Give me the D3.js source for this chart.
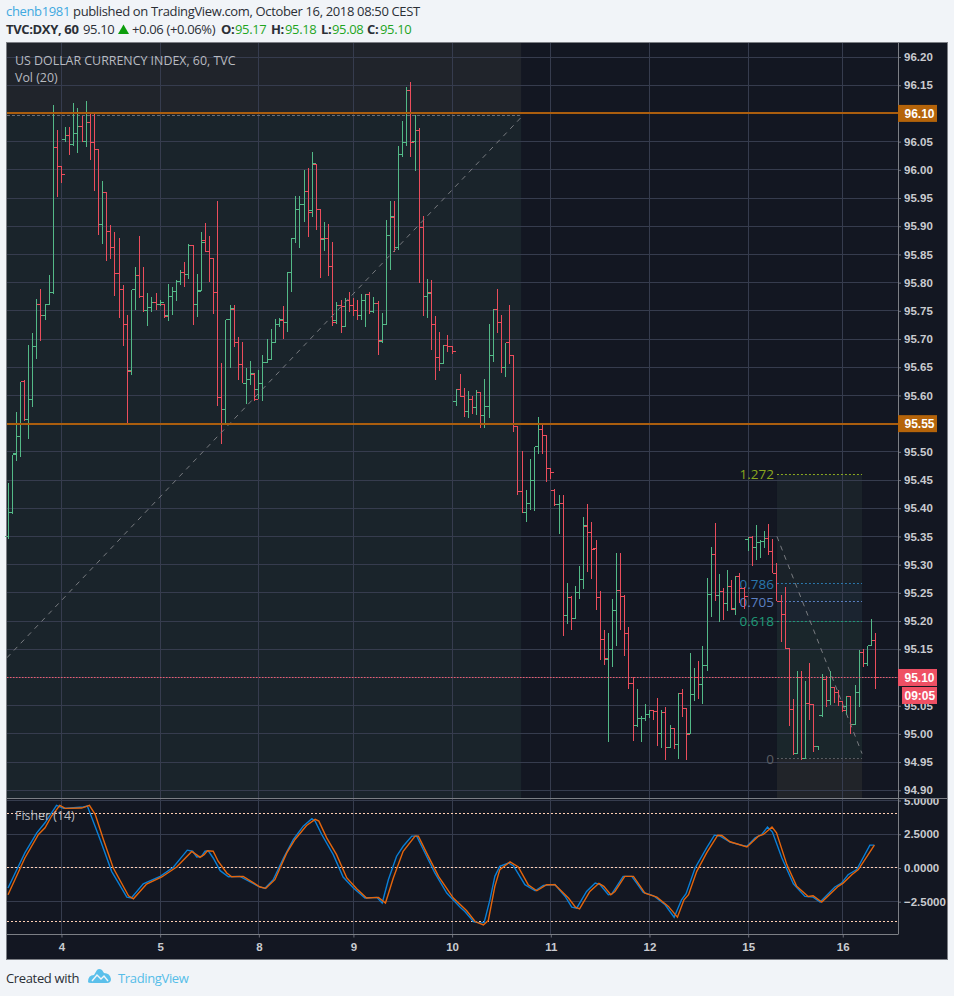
<!DOCTYPE html>
<html>
<head>
<meta charset="utf-8">
<title>DXY 60</title>
<script src="https://cdn.jsdelivr.net/npm/d3@7"></script>
<style>
  html, body { margin: 0; padding: 0; background: #f1f4f8; }
  svg { display: block; }
  .head { font-family: "Open Sans", sans-serif; font-size: 13px; letter-spacing: -0.35px; fill: #2b2f36; }
  .axis text { font-family: "Liberation Sans", Arial, sans-serif; font-size: 11.5px; font-weight: bold; fill: #c9cbd0; }
  .axis .domain { display: none; }
  .axis line { stroke: #6a6d78; }
  .legend { font-family: "Open Sans", sans-serif; font-size: 12.4px; fill: #b8bbc0; }
  .fib { font-family: "Open Sans", sans-serif; font-size: 13.5px; text-anchor: end; }
  .tag { font-family: "Liberation Sans", Arial, sans-serif; font-size: 12px; font-weight: bold; fill: #fff; }
</style>
</head>
<body>
<div id="chart"></div>
<script>
// hourly bars
const opens = [
  95.350,95.393,95.497,95.528,95.624,95.557,95.592,95.687,95.762,95.742,95.762,95.782,96.040,96.006,96.053,96.060,
  96.044,96.064,96.076,96.050,96.083,96.048,96.036,95.903,95.959,95.891,95.863,95.816,95.788,95.726,95.645,95.787,
  95.812,95.775,95.750,95.756,95.765,95.761,95.761,95.741,95.775,95.785,95.802,95.818,95.814,95.865,95.761,95.786,
  95.874,95.855,95.842,95.782,95.596,95.575,95.734,95.753,95.693,95.655,95.622,95.629,95.638,95.611,95.622,95.659,
  95.663,95.694,95.725,95.733,95.730,95.818,95.879,95.929,95.939,95.961,95.927,96.009,95.929,95.876,95.879,95.829,
  95.733,95.759,95.723,95.768,95.760,95.750,95.741,95.768,95.779,95.749,95.763,95.695,95.725,95.884,95.916,95.863,
  96.027,96.048,96.141,96.050,96.070,95.898,95.775,95.782,95.725,95.668,95.657,95.688,95.687,95.589,95.611,95.599,
  95.572,95.593,95.578,95.605,95.564,95.580,95.670,95.753,95.730,95.650,95.693,95.670,95.545,95.429,95.393,95.408,
  95.449,95.509,95.539,95.529,95.470,95.431,95.407,95.408,95.210,95.241,95.205,95.250,95.274,95.367,95.357,95.328,
  95.242,95.168,95.132,95.149,95.218,95.254,95.244,95.178,95.089,95.015,95.027,95.027,95.035,95.041,95.040,95.000,
  95.038,94.975,95.009,94.981,95.072,95.045,95.000,95.070,95.100,95.088,95.122,95.248,95.318,95.245,95.252,95.232,
  95.261,95.223,95.279,95.258,95.345,95.348,95.330,95.340,95.341,95.347,95.323,95.285,95.235,95.211,95.151,95.044,
  94.965,95.100,94.956,95.054,95.052,94.977,95.033,95.096,95.060,95.082,95.073,95.057,95.049,95.066,95.017,95.074,
  95.144,95.125,95.156,95.166
];
const highs = [
  95.445,95.495,95.570,95.624,95.627,95.690,95.711,95.771,95.789,95.762,95.814,96.115,96.071,96.006,96.076,96.076,
  96.118,96.110,96.096,96.122,96.100,96.100,96.036,95.981,95.959,95.903,95.889,95.879,95.795,95.742,95.787,95.827,
  95.882,95.827,95.781,95.774,95.781,95.770,95.763,95.797,95.792,95.804,95.822,95.836,95.868,95.865,95.815,95.889,
  95.906,95.882,95.844,95.945,95.657,95.734,95.761,95.760,95.704,95.695,95.648,95.661,95.639,95.645,95.672,95.700,
  95.717,95.736,95.737,95.758,95.818,95.880,95.954,95.954,95.999,96.004,96.031,96.011,95.930,95.908,95.904,95.872,
  95.765,95.770,95.773,95.783,95.773,95.769,95.779,95.780,95.784,95.774,95.768,95.747,95.911,95.945,95.945,96.042,
  96.086,96.146,96.156,96.097,96.074,95.919,95.807,95.805,95.740,95.713,95.690,95.707,95.687,95.611,95.638,95.613,
  95.607,95.599,95.610,95.606,95.630,95.727,95.754,95.789,95.742,95.693,95.760,95.670,95.545,95.501,95.433,95.487,
  95.509,95.561,95.552,95.529,95.470,95.434,95.424,95.424,95.268,95.244,95.262,95.298,95.385,95.408,95.375,95.344,
  95.254,95.184,95.178,95.239,95.321,95.321,95.246,95.189,95.100,95.079,95.031,95.053,95.042,95.042,95.063,95.042,
  95.047,95.015,95.009,95.073,95.079,95.045,95.143,95.116,95.129,95.156,95.277,95.332,95.373,95.283,95.258,95.291,
  95.273,95.280,95.285,95.260,95.349,95.350,95.370,95.344,95.360,95.372,95.345,95.303,95.246,95.260,95.151,95.061,
  95.111,95.111,95.093,95.125,95.051,94.977,95.107,95.102,95.111,95.082,95.077,95.058,95.067,95.066,95.086,95.149,
  95.151,95.156,95.203,95.178
];
const lows = [
  95.345,95.390,95.483,95.490,95.555,95.522,95.580,95.664,95.696,95.734,95.762,95.780,95.951,95.976,96.050,96.027,
  96.042,96.030,96.050,96.040,96.017,95.963,95.885,95.868,95.839,95.842,95.776,95.738,95.687,95.550,95.637,95.751,
  95.773,95.748,95.723,95.748,95.751,95.758,95.738,95.732,95.742,95.767,95.795,95.792,95.807,95.725,95.739,95.785,
  95.854,95.801,95.745,95.581,95.514,95.551,95.649,95.686,95.627,95.622,95.585,95.618,95.591,95.593,95.590,95.658,
  95.663,95.694,95.722,95.700,95.713,95.783,95.870,95.862,95.908,95.881,95.917,95.893,95.808,95.856,95.811,95.724,
  95.727,95.710,95.723,95.748,95.740,95.734,95.733,95.721,95.744,95.747,95.671,95.693,95.725,95.823,95.855,95.857,
  96.023,96.043,96.023,95.998,95.800,95.740,95.738,95.680,95.628,95.644,95.657,95.677,95.673,95.581,95.598,95.562,
  95.560,95.567,95.565,95.542,95.542,95.560,95.660,95.710,95.639,95.633,95.655,95.535,95.424,95.391,95.375,95.397,
  95.395,95.496,95.497,95.446,95.452,95.404,95.355,95.174,95.195,95.184,95.204,95.239,95.257,95.287,95.275,95.220,
  95.131,95.122,94.986,95.119,95.156,95.184,95.138,95.080,94.987,95.013,94.986,95.023,95.029,95.024,94.978,94.975,
  94.953,94.975,94.974,94.955,95.030,94.953,95.000,95.058,95.062,95.053,95.112,95.208,95.235,95.199,95.202,95.217,
  95.219,95.211,95.232,95.221,95.325,95.297,95.308,95.311,95.329,95.318,95.285,95.235,95.163,95.150,95.014,94.962,
  94.965,94.954,94.956,95.025,94.968,94.971,95.030,95.048,95.051,95.054,95.049,95.039,95.033,95.000,95.015,95.047,
  95.119,95.121,95.155,95.079
];
const closes = [
  95.393,95.495,95.528,95.624,95.557,95.592,95.687,95.762,95.742,95.762,95.782,96.040,96.006,95.992,96.060,96.044,
  96.064,96.076,96.050,96.083,96.048,96.036,95.903,95.959,95.891,95.863,95.816,95.788,95.726,95.643,95.787,95.812,
  95.775,95.750,95.756,95.765,95.761,95.764,95.740,95.775,95.785,95.802,95.818,95.814,95.866,95.761,95.785,95.872,
  95.855,95.842,95.782,95.596,95.575,95.734,95.755,95.693,95.655,95.622,95.629,95.639,95.593,95.622,95.659,95.663,
  95.694,95.725,95.734,95.730,95.818,95.879,95.930,95.939,95.961,95.925,96.011,95.929,95.878,95.879,95.829,95.730,
  95.759,95.757,95.768,95.760,95.750,95.741,95.768,95.779,95.749,95.763,95.697,95.725,95.883,95.917,95.863,96.027,
  96.048,96.141,96.048,96.070,95.898,95.775,95.780,95.725,95.668,95.657,95.688,95.687,95.678,95.611,95.599,95.572,
  95.593,95.578,95.605,95.564,95.580,95.670,95.753,95.730,95.650,95.693,95.670,95.545,95.429,95.393,95.408,95.449,
  95.509,95.539,95.529,95.470,95.463,95.407,95.409,95.210,95.241,95.205,95.250,95.274,95.369,95.357,95.327,95.242,
  95.168,95.133,95.149,95.218,95.254,95.244,95.178,95.089,95.015,95.027,95.027,95.035,95.041,95.040,95.000,95.038,
  94.975,95.009,94.981,95.072,95.045,94.999,95.070,95.100,95.088,95.122,95.248,95.318,95.245,95.252,95.232,95.261,
  95.220,95.279,95.258,95.243,95.349,95.330,95.340,95.341,95.347,95.323,95.285,95.235,95.211,95.151,95.044,94.965,
  95.100,94.956,95.054,95.052,94.977,95.033,95.096,95.060,95.082,95.073,95.057,95.041,95.066,95.017,95.074,95.144,
  95.125,95.156,95.166,95.100
];

const priceTicks = [96.20,96.15,96.10,96.05,96.00,95.95,95.90,95.85,95.80,95.75,95.70,95.65,95.60,95.55,95.50,95.45,
  95.40,95.35,95.30,95.25,95.20,95.15,95.10,95.05,95.00,94.95,94.90];
const taggedTicks = [96.10,95.55,95.10];
const dayIdx = [13,37,61,84,108,132,156,180,203];
const dayLabels = ["4","5","8","9","10","11","12","15","16"];
const fisherTicks = [5,2.5,0,-2.5];
const fisherLevels = [4,0,-4];
const hLevels = [96.10,95.55];

// Fisher (14), turning points of each line
const fisherIdx = [0,4.1,7,9,11.8,13.5,18.3,19.3,22.4,25.2,28.9,30,32.9,37,40.2,43.6,44.9,45.9,47.1,47.9,48.7,49.9,51.6,53.6,
  56.4,60.9,62.5,64.5,67,69.4,71.8,73.9,74.7,76.3,79.1,81.5,84,86.8,89.7,91,92.5,94.5,96.1,98.2,99.4,100.6,103.8,106.7,109.9,
  111.1,113.2,114.8,115.8,117.2,118.4,119.6,121.7,122.9,125.7,128.2,130.2,133,135.5,137.1,138.3,140.7,142.8,144,146,146.8,
  149.6,151.7,154.5,157,159.8,162,163.8,164.9,167.1,169.9,171.8,173.2,175.6,178.8,179.7,181.7,183.3,184.7,185.9,188.2,191,
  193.8,195.8,197.5,201.1,202.7,204.3,206.4,209.6,210.7];
const fisherVal = [-1.49,1.12,2.6,3.35,4.64,4.42,4.52,4.59,2.11,-0.25,-2.16,-2.23,-1.17,-0.62,0.05,1.32,1.24,0.82,0.87,1.24,1.27,0.74,-0.2,-0.65,
  -0.62,-1.36,-1.51,-0.87,0.74,2.11,3.1,3.65,3.47,2.48,0.99,-0.67,-1.49,-2.23,-2.18,-2.6,-0.87,0.87,1.61,2.36,2.36,1.61,-0.37,-1.86,-2.9,
  -3.23,-3.97,-4.09,-4.04,-2.36,-0.62,0.12,0.37,0.17,-1.24,-1.69,-1.29,-1.22,-2.11,-2.9,-2.98,-1.74,-1.12,-1.24,-1.98,-1.94,
  -0.62,-0.62,-1.81,-2.06,-2.73,-3.65,-2.36,-1.91,0,1.49,2.43,2.36,1.91,1.66,1.61,2.23,2.48,3.03,2.66,0.74,-1.17,
  -2.11,-2.16,-2.53,-1.41,-1.12,-0.5,-0.12,1.69,1.69];
const triggerIdx = [0,4.1,7.4,9,10.6,12.6,13.9,17.9,19.8,21.2,23.2,25.6,29.3,30.5,33.7,37.4,41,44.7,45.9,46.7,47.7,48.5,49.9,51.1,53.2,54.4,
  57.2,61.3,62.7,64.9,67.8,69.8,72.6,74.7,75.6,77.5,79.9,82.4,84.8,87.2,90.1,91.8,93.7,96.1,99,99.8,101.8,104.7,108.3,111.5,113.6,
  115.6,116.8,118.4,119.6,122.1,124.1,126.5,128.6,131,133,136.3,138,139,141.5,143.7,144.9,146.6,147.6,150,152.1,154.9,157.8,160.6,162.8,
  164.4,165.5,167.5,169.9,172.6,173.6,175.6,179.7,182.5,183.7,185.8,186.9,189.4,191.8,194.6,195.8,197.9,201.9,203.1,205.2,206.8,210.7];
const triggerVal = [-1.98,0.74,2.48,2.98,3.85,4.64,4.42,4.44,4.64,3.97,2.11,0,-2.06,-2.28,-1.19,-0.67,0.07,1.22,0.97,0.79,0.99,1.27,1.24,0.5,-0.37,-0.65,
  -0.62,-1.41,-1.51,-0.87,1.12,2.11,3.15,3.6,3.47,2.23,0.99,-0.74,-1.54,-2.23,-2.18,-2.6,-0.74,1.24,2.36,2.36,1.12,-0.62,-2.23,-3.15,-3.97,
  -4.22,-3.9,-1.36,-0.12,0.45,0.07,-1.24,-1.69,-1.24,-1.24,-2.23,-2.9,-3.03,-1.74,-1.14,-1.36,-1.98,-1.74,-0.62,-0.62,-1.86,-2.16,-2.85,-3.65,
  -2.36,-1.98,-0.25,1.12,2.43,2.41,1.94,1.56,2.36,2.48,3.03,2.61,0.25,-1.36,-2.11,-2.06,-2.53,-1.36,-1.12,-0.5,-0.12,1.69];

// drawings: big fib box on the left, small one on the right
const leftBox = { i0: -0.25, i1: 124.8, top: 96.097, p0: 95.135, p1: 96.093 };
const fibBox = { i0: 187, i1: 207.7, p0: 95.35, p1: 94.965 };
const fibNames = ["1.272","0.786","0.705","0.618","0"];
const fibPrices = [95.46,95.266,95.234,95.2,94.956];
const fibColors = ["#8aa81f","#2a78ad","#5c80c2","#1f9b78","#5a5d63"];

const W = 954, H = 996;
const plotL = 7, plotR = 898, frameR = 947, plotT = 43, sep = 798.5, paneB = 934.5, frameB = 959.5;

const x = d3.scaleLinear().domain([0, 211]).range([8, 8 + 4.112 * 211]);
const y = d3.scaleLinear().domain([94.90, 96.20]).range([790.3, 57]);
const yF = d3.scaleLinear().domain([-2.5, 5]).range([901.7, 800.5]);
const snap = v => Math.floor(v) + 0.5;
const sx = i => snap(x(i));
const sy = p => snap(y(p));

const svg = d3.select("#chart").append("svg").attr("width", W).attr("height", H);

// header
const line1 = svg.append("text").attr("class", "head").attr("x", 6).attr("y", 16);
line1.append("tspan").style("fill", "#3fa9e0").text("chenb1981");
line1.append("tspan").text(" published on TradingView.com, October 16, 2018 08:50 CEST");

const green = "#1fa51f";
const line2 = [
  { t: "TVC:DXY, 60", x: 6, b: true },
  { t: "95.10", x: 83 },
  { t: "+0.06 (+0.06%)", x: 132 },
  { t: "O:", x: 221, b: true }, { t: "95.17", x: 235, c: green },
  { t: "H:", x: 271, b: true }, { t: "95.18", x: 285, c: green },
  { t: "L:", x: 321, b: true }, { t: "95.08", x: 332, c: green },
  { t: "C:", x: 367, b: true }, { t: "95.10", x: 380, c: green }
];
svg.selectAll(".l2").data(line2).join("text")
  .attr("class", "head l2").attr("x", d => d.x).attr("y", 34)
  .style("font-weight", d => d.b ? "bold" : null)
  .style("fill", d => d.c || null)
  .text(d => d.t);
svg.append("path").attr("d", "M118 34 L123.5 24.5 L129 34 Z").attr("fill", "#0d9e0d");

// frame
svg.append("rect").attr("x", plotL).attr("y", plotT).attr("width", frameR - plotL).attr("height", frameB - plotT)
  .attr("fill", "#131722");

// drawing backgrounds go under the grid
const gBox = svg.append("g");
gBox.append("rect").attr("x", x(leftBox.i0)).attr("width", x(leftBox.i1) - x(leftBox.i0))
  .attr("y", plotT).attr("height", y(leftBox.top) - plotT).attr("fill", "#20242b");
gBox.append("rect").attr("x", x(leftBox.i0)).attr("width", x(leftBox.i1) - x(leftBox.i0))
  .attr("y", y(leftBox.top)).attr("height", sep - y(leftBox.top)).attr("fill", "#1a242b");

const fx0 = x(fibBox.i0), fw = x(fibBox.i1) - x(fibBox.i0);
const fibFills = ["#1a2229","#1a2530","#1b2430","#1a262b"];
fibFills.forEach((c, k) => {
  gBox.append("rect").attr("x", fx0).attr("width", fw)
    .attr("y", y(fibPrices[k])).attr("height", y(fibPrices[k + 1]) - y(fibPrices[k])).attr("fill", c);
});
gBox.append("rect").attr("x", fx0).attr("width", fw)
  .attr("y", y(fibPrices[4])).attr("height", sep - y(fibPrices[4])).attr("fill", "#212429");

// grid
const grid = svg.append("g").attr("stroke", "#363c4e").attr("stroke-width", 1);
grid.selectAll(".h").data(priceTicks).join("line").attr("class", "h")
  .attr("x1", plotL).attr("x2", plotR).attr("y1", sy).attr("y2", sy);
grid.selectAll(".hf").data(fisherTicks).join("line").attr("class", "hf")
  .attr("x1", plotL).attr("x2", plotR).attr("y1", d => snap(yF(d))).attr("y2", d => snap(yF(d)));
grid.selectAll(".v").data(dayIdx).join("line").attr("class", "v")
  .attr("x1", sx).attr("x2", sx).attr("y1", plotT).attr("y2", paneB);

// drawing lines under the bars
svg.append("line").attr("x1", x(leftBox.i0)).attr("x2", x(leftBox.i1))
  .attr("y1", snap(y(leftBox.top))).attr("y2", snap(y(leftBox.top)))
  .attr("stroke", "#6b6e76").attr("stroke-dasharray", "3 2");

const fibG = svg.append("g");
fibG.selectAll("line").data(fibPrices).join("line")
  .attr("x1", fx0).attr("x2", fx0 + fw).attr("y1", sy).attr("y2", sy)
  .attr("stroke", (d, k) => fibColors[k]).attr("stroke-dasharray", "2 2");
fibG.selectAll("text").data(fibPrices).join("text")
  .attr("class", "fib").attr("x", fx0 - 3).attr("y", d => y(d) + 5)
  .attr("fill", (d, k) => fibColors[k]).text((d, k) => fibNames[k]);

// OHLC bars
const bars = d3.range(opens.length).map(i => ({ i, o: opens[i], h: highs[i], l: lows[i], c: closes[i] }));
const barG = svg.append("g").attr("shape-rendering", "crispEdges");
const bar = barG.selectAll("g").data(bars).join("g")
  .attr("stroke", d => d.c >= d.o ? "#53b987" : "#eb4d5c");
bar.append("line").attr("x1", d => sx(d.i)).attr("x2", d => sx(d.i)).attr("y1", d => y(d.h)).attr("y2", d => y(d.l));
bar.append("line").attr("x1", d => sx(d.i) - 3.5).attr("x2", d => sx(d.i)).attr("y1", d => sy(d.o)).attr("y2", d => sy(d.o));
bar.append("line").attr("x1", d => sx(d.i)).attr("x2", d => sx(d.i) + 3.5).attr("y1", d => sy(d.c)).attr("y2", d => sy(d.c));

// dashed trend lines of the two fibs
svg.append("line").attr("x1", x(leftBox.i0)).attr("x2", x(leftBox.i1)).attr("y1", y(leftBox.p0)).attr("y2", y(leftBox.p1))
  .attr("stroke", "#787b80").attr("stroke-dasharray", "5 5").attr("stroke-width", 1);
svg.append("line").attr("x1", fx0).attr("x2", fx0 + fw).attr("y1", y(fibBox.p0)).attr("y2", y(fibBox.p1))
  .attr("stroke", "#787b80").attr("stroke-dasharray", "5 5").attr("stroke-width", 1);

// horizontal levels and last price
svg.selectAll(".lvl").data(hLevels).join("line").attr("class", "lvl")
  .attr("x1", plotL).attr("x2", plotR).attr("y1", d => Math.round(y(d))).attr("y2", d => Math.round(y(d)))
  .attr("stroke", "#ab5e0e").attr("stroke-width", 2);
svg.append("line").attr("x1", plotL).attr("x2", plotR).attr("y1", sy(closes[211])).attr("y2", sy(closes[211]))
  .attr("stroke", "#ef5b6e").attr("stroke-dasharray", "1.5 1.5");

// Fisher pane
svg.selectAll(".flevel").data(fisherLevels).join("line").attr("class", "flevel")
  .attr("x1", plotL).attr("x2", plotR).attr("y1", d => snap(yF(d))).attr("y2", d => snap(yF(d)))
  .attr("stroke", "#ffcfb4").attr("stroke-dasharray", "2 2");

const fLine = d3.line().x(d => x(d[0])).y(d => yF(d[1]));
svg.append("path").datum(d3.zip(fisherIdx, fisherVal)).attr("d", fLine)
  .attr("fill", "none").attr("stroke", "#0a7fd6").attr("stroke-width", 1.4);
svg.append("path").datum(d3.zip(triggerIdx, triggerVal)).attr("d", fLine)
  .attr("fill", "none").attr("stroke", "#e5650c").attr("stroke-width", 1.4);

// axes, clipped at the pane separator
const clip = svg.append("defs");
clip.append("clipPath").attr("id", "priceClip").append("rect").attr("x", plotR).attr("y", plotT).attr("width", frameR - plotR).attr("height", sep - plotT);
clip.append("clipPath").attr("id", "fishClip").append("rect").attr("x", plotR).attr("y", sep).attr("width", frameR - plotR).attr("height", paneB - sep);

const priceAxis = svg.append("g").attr("clip-path", "url(#priceClip)").append("g").attr("class", "axis")
  .attr("transform", `translate(${plotR},0)`)
  .call(d3.axisRight(y).tickValues(priceTicks).tickSize(3).tickPadding(3).tickFormat(d3.format(".2f")));
// these three are shown on their coloured tags instead
priceAxis.selectAll(".tick").filter(d => taggedTicks.includes(d)).select("text").remove();
svg.append("g").attr("clip-path", "url(#fishClip)").append("g").attr("class", "axis")
  .attr("transform", `translate(${plotR},0)`)
  .call(d3.axisRight(yF).tickValues(fisherTicks).tickSize(3).tickPadding(3).tickFormat(d3.format(".4f")));
svg.append("g").attr("class", "axis")
  .attr("transform", `translate(0,${paneB})`)
  .call(d3.axisBottom(x).tickValues(dayIdx).tickSize(3).tickPadding(5).tickFormat((d, k) => dayLabels[k]));

// frame lines on top
const frameG = svg.append("g").attr("stroke", "#7c7f85").attr("fill", "none");
frameG.append("rect").attr("x", plotL - 0.5).attr("y", plotT - 0.5).attr("width", frameR - plotL + 1).attr("height", frameB - plotT + 0.5);
frameG.append("line").attr("x1", plotL).attr("x2", frameR).attr("y1", sep).attr("y2", sep);
frameG.append("line").attr("x1", plotL).attr("x2", plotR).attr("y1", paneB).attr("y2", paneB);
frameG.append("line").attr("x1", plotR + 0.5).attr("x2", plotR + 0.5).attr("y1", plotT).attr("y2", paneB);

// price tags
const tags = [
  { p: 96.10, t: "96.10", c: "#b5640a", x0: plotR, x1: 937, dy: 0 },
  { p: 95.55, t: "95.55", c: "#b5640a", x0: plotR, x1: 937, dy: 0 },
  { p: closes[211], t: "95.10", c: "#ef5064", x0: plotR, x1: 937, dy: 0 },
  { p: closes[211], t: "09:05", c: "#ef5064", x0: 902, x1: 937, dy: 18 }
];
const tag = svg.selectAll(".pt").data(tags).join("g");
tag.append("rect").attr("x", d => d.x0).attr("width", d => d.x1 - d.x0)
  .attr("y", d => y(d.p) + d.dy - 8.5).attr("height", 17).attr("fill", d => d.c);
tag.append("text").attr("class", "tag").attr("x", 904.5)
  .attr("y", d => y(d.p) + d.dy + 4.5).text(d => d.t);

// pane titles
svg.append("text").attr("class", "legend").attr("x", 15).attr("y", 65).text("US DOLLAR CURRENCY INDEX, 60, TVC");
svg.append("text").attr("class", "legend").attr("x", 15).attr("y", 82).text("Vol (20)");
svg.append("text").attr("class", "legend").attr("x", 15).attr("y", 820).text("Fisher (14)");

// footer
svg.append("text").attr("class", "head").attr("x", 6).attr("y", 983).text("Created with");
svg.append("path")
  .attr("d", "M88 982 Q88 975 94 975 L97 970 Q99 968 102 970 L104 973 Q110 973 111 979 Q111 983 107 983 L91 983 Q88 983 88 982 Z")
  .attr("fill", "#5bc0eb");
svg.append("path").attr("d", "M92 981 L97 975 L101 979 L104 976 L108 981")
  .attr("fill", "none").attr("stroke", "#f1f4f8").attr("stroke-width", 1.4);
svg.append("text").attr("class", "head").attr("x", 118).attr("y", 983).style("fill", "#55bde8").text("TradingView");
</script>
</body>
</html>
